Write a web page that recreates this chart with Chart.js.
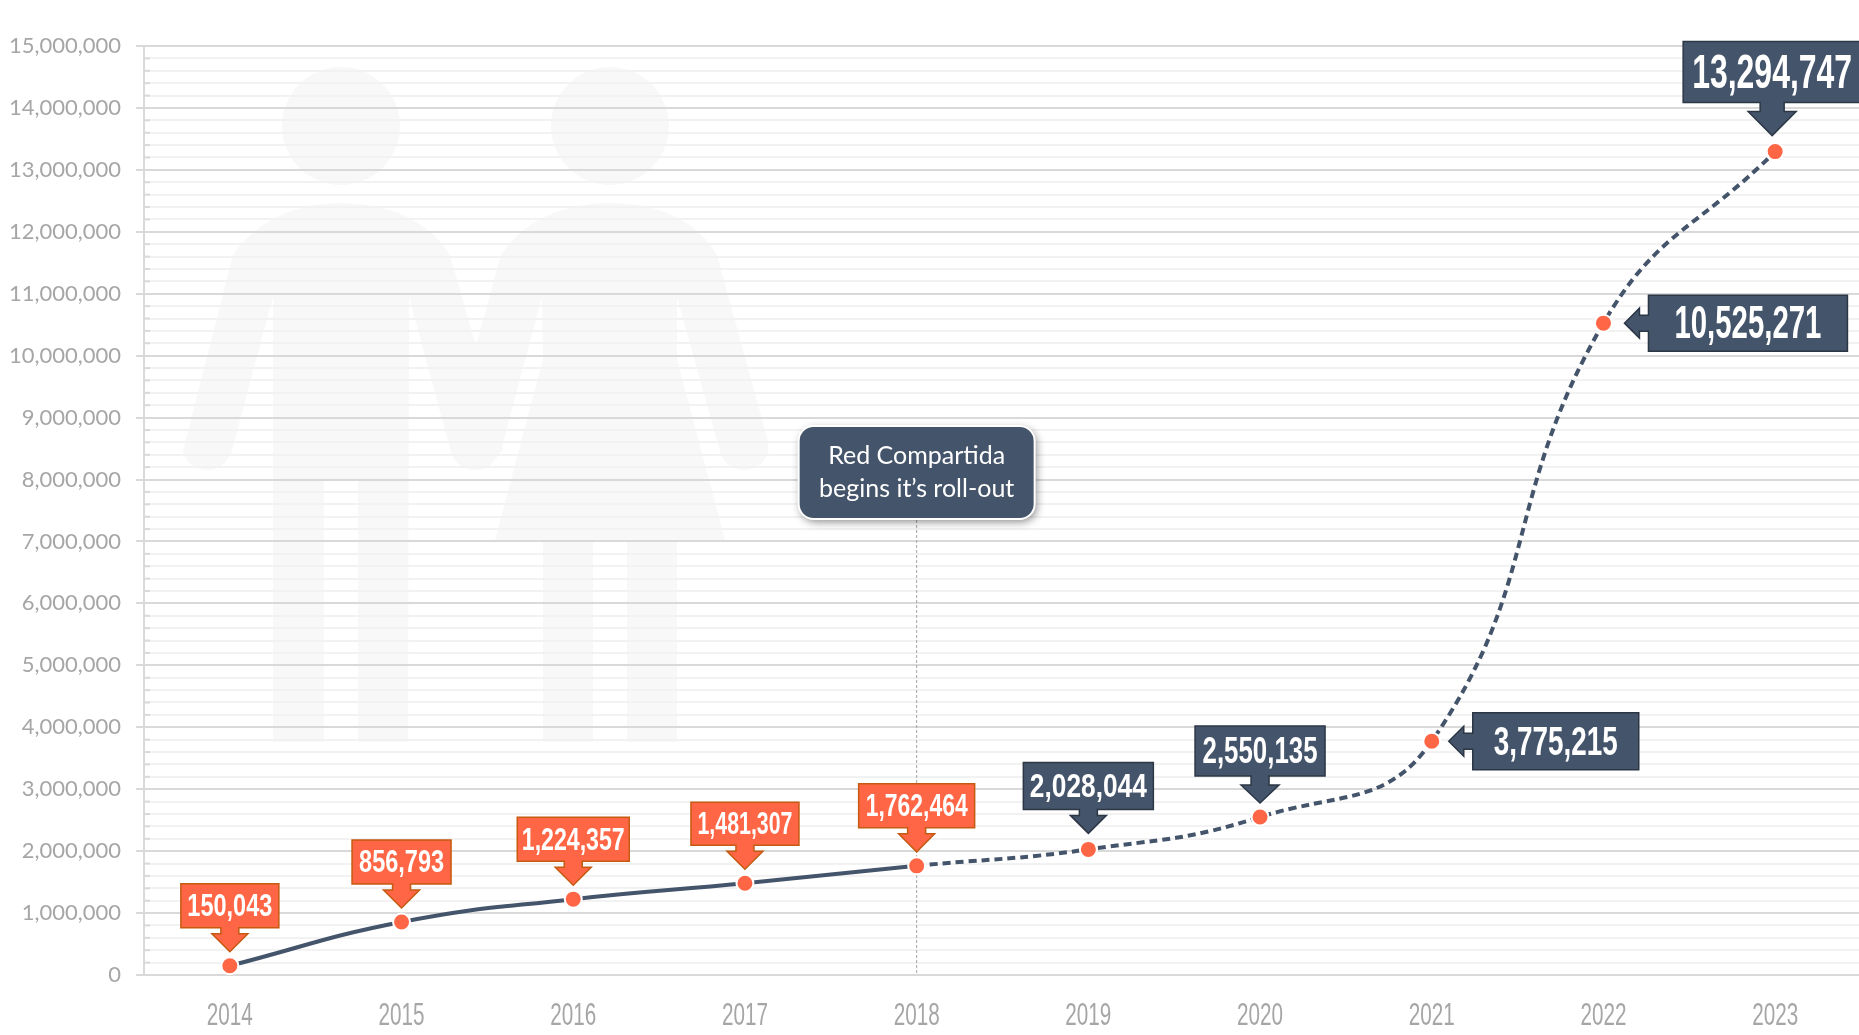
<!DOCTYPE html>
<html>
<head>
<meta charset="utf-8">
<style>
html, body { margin: 0; padding: 0; background: #fff; overflow: hidden; }
#wrap { width: 1859px; height: 1035px; position: relative; overflow: hidden; }
</style>
<script src="https://cdn.jsdelivr.net/npm/chart.js@4"></script>
</head>
<body>
<div id="wrap"><canvas id="canvas"></canvas></div>
<script>
var years = ['2014', '2015', '2016', '2017', '2018', '2019', '2020', '2021', '2022', '2023'];
var users = [150043, 856793, 1224357, 1481307, 1762464, 2028044, 2550135, 3775215, 10525271, 13294747];

var slate = '#44546A';
var orange = '#FF6645';

// last index of the solid part of the line
var lastSolid = 4;
var rolloutYear = '2018';

// callout shapes, one per point
var callouts = [
    { dir: 'down', w: 98, h: 44, size: 31, textW: 85, fill: orange, edge: '#C55A11' },
    { dir: 'down', w: 99, h: 44, size: 31, textW: 85, fill: orange, edge: '#C55A11' },
    { dir: 'down', w: 112, h: 44, size: 31, textW: 103, fill: orange, edge: '#C55A11' },
    { dir: 'down', w: 108, h: 43, size: 31, textW: 95, fill: orange, edge: '#C55A11' },
    { dir: 'down', w: 116, h: 44, size: 31, textW: 102, fill: orange, edge: '#C55A11' },
    { dir: 'down', w: 130, h: 47, size: 33, textW: 117, fill: slate, edge: '#2c3746', gap: 40, tipGap: 16 },
    { dir: 'down', w: 130, h: 50, size: 37, textW: 115, fill: slate, edge: '#2c3746', gap: 41, tipGap: 14, head: 19 },
    { dir: 'right', w: 166, h: 57, size: 41, textW: 124, fill: slate, edge: '#2c3746' },
    { dir: 'right', w: 199, h: 56, size: 46, textW: 147, fill: slate, edge: '#2c3746' },
    { dir: 'down', w: 178, h: 61, size: 49, textW: 160, fill: slate, edge: '#2c3746', shift: -3, gap: 49, tipGap: 16, head: 24, shaft: 12, neck: 24 }
];

function drawPeople(ctx) {
    ctx.save();
    ctx.fillStyle = '#f8f8f8';
    ctx.beginPath();
    ctx.arc(341, 126, 59, 0, Math.PI * 2);
    ctx.arc(610, 126, 59, 0, Math.PI * 2);
    ctx.fill();
    // man
    ctx.beginPath();
    ctx.moveTo(273, 742);
    ctx.lineTo(273, 297);
    ctx.lineTo(231, 454);
    ctx.arc(207, 445, 25, 0.35, 2.88);
    ctx.lineTo(233, 255);
    ctx.bezierCurveTo(255, 222, 295, 203, 340, 203);
    ctx.bezierCurveTo(390, 203, 430, 222, 450, 255);
    ctx.lineTo(476, 346);
    ctx.lineTo(501, 255);
    ctx.lineTo(503, 450);
    ctx.arc(475, 445, 25, 0.35, 2.88);
    ctx.lineTo(409, 297);
    ctx.lineTo(408, 742);
    ctx.lineTo(358, 742);
    ctx.lineTo(358, 480);
    ctx.lineTo(324, 480);
    ctx.lineTo(324, 742);
    ctx.closePath();
    ctx.fill();
    // woman
    ctx.beginPath();
    ctx.moveTo(543, 742);
    ctx.lineTo(543, 540);
    ctx.lineTo(495, 540);
    ctx.lineTo(543, 359);
    ctx.lineTo(542, 297);
    ctx.lineTo(500, 454);
    ctx.arc(475, 445, 25, 0.35, 2.88);
    ctx.lineTo(501, 255);
    ctx.bezierCurveTo(522, 222, 562, 203, 610, 203);
    ctx.bezierCurveTo(660, 203, 698, 222, 717, 255);
    ctx.lineTo(768, 441);
    ctx.arc(744, 445, 25, 0.2, 2.75);
    ctx.lineTo(677, 297);
    ctx.lineTo(677, 359);
    ctx.lineTo(725, 540);
    ctx.lineTo(677, 540);
    ctx.lineTo(677, 742);
    ctx.lineTo(627, 742);
    ctx.lineTo(627, 540);
    ctx.lineTo(593, 540);
    ctx.lineTo(593, 742);
    ctx.closePath();
    ctx.fill();
    ctx.restore();
}

function squeezedText(ctx, text, x, y, width) {
    var measured = ctx.measureText(text).width;
    ctx.save();
    ctx.translate(x, y);
    ctx.scale(width / measured, 1);
    ctx.fillText(text, 0, 0);
    ctx.restore();
}

function drawCallout(ctx, pt, c, text) {
    var left, top, cx, cy;
    ctx.save();
    ctx.fillStyle = c.fill;
    ctx.strokeStyle = c.edge;
    ctx.lineWidth = 1.5;
    ctx.beginPath();
    if (c.dir === 'down') {
        var bottom = pt.y - (c.gap || 38);
        cx = pt.x + (c.shift || 0);
        left = cx - c.w / 2;
        top = bottom - c.h;
        var shaft = c.shaft || 9, head = c.head || 18;
        var tip = pt.y - (c.tipGap || 14), neck = tip - (c.neck || 18);
        ctx.moveTo(left, top);
        ctx.lineTo(left + c.w, top);
        ctx.lineTo(left + c.w, bottom);
        ctx.lineTo(cx + shaft, bottom);
        ctx.lineTo(cx + shaft, neck);
        ctx.lineTo(cx + head, neck);
        ctx.lineTo(cx, tip);
        ctx.lineTo(cx - head, neck);
        ctx.lineTo(cx - shaft, neck);
        ctx.lineTo(cx - shaft, bottom);
        ctx.lineTo(left, bottom);
        cy = top + c.h / 2;
    } else {
        left = pt.x + (c.h > 56 ? 41 : 45);
        top = pt.y - c.h / 2;
        var tipX = left - 24, neckX = left - 9;
        ctx.moveTo(left, top);
        ctx.lineTo(left + c.w, top);
        ctx.lineTo(left + c.w, top + c.h);
        ctx.lineTo(left, top + c.h);
        ctx.lineTo(left, pt.y + 8);
        ctx.lineTo(neckX, pt.y + 8);
        ctx.lineTo(neckX, pt.y + 15);
        ctx.lineTo(tipX, pt.y);
        ctx.lineTo(neckX, pt.y - 15);
        ctx.lineTo(neckX, pt.y - 8);
        ctx.lineTo(left, pt.y - 8);
        cx = left + c.w / 2;
        cy = pt.y;
    }
    ctx.closePath();
    ctx.fill();
    ctx.stroke();

    ctx.font = 'bold ' + c.size + 'px "Liberation Sans"';
    ctx.fillStyle = '#fff';
    ctx.textAlign = 'center';
    ctx.textBaseline = 'middle';
    squeezedText(ctx, text, cx, cy + 2, c.textW);
    ctx.restore();
}

var peoplePlugin = {
    id: 'people',
    beforeDraw: function (chart) {
        drawPeople(chart.ctx);
    }
};

// small inner ticks on the y axis and the condensed year labels
var axisPlugin = {
    id: 'axisExtras',
    afterDraw: function (chart) {
        var ctx = chart.ctx;
        var yScale = chart.scales.y;
        var xScale = chart.scales.x;
        ctx.save();
        ctx.strokeStyle = '#d9d9d9';
        ctx.lineWidth = 2;
        yScale.ticks.forEach(function (t) {
            if (t.value % 1000000 !== 0) {
                var py = yScale.getPixelForValue(t.value);
                ctx.beginPath();
                ctx.moveTo(xScale.left, py);
                ctx.lineTo(xScale.left + 6, py);
                ctx.stroke();
            }
        });
        ctx.font = '32px "Liberation Sans"';
        ctx.fillStyle = '#a6a6a6';
        ctx.textAlign = 'center';
        ctx.textBaseline = 'middle';
        years.forEach(function (year, i) {
            squeezedText(ctx, year, xScale.getPixelForValue(i), 1016, 46);
        });
        ctx.restore();
    }
};

var rolloutPlugin = {
    id: 'rollout',
    beforeDatasetsDraw: function (chart) {
        var ctx = chart.ctx;
        var x = chart.scales.x.getPixelForValue(years.indexOf(rolloutYear));
        ctx.save();
        ctx.strokeStyle = '#a6a6a6';
        ctx.lineWidth = 1;
        ctx.setLineDash([3, 2]);
        ctx.beginPath();
        ctx.moveTo(x, 500);
        ctx.lineTo(x, chart.chartArea.bottom);
        ctx.stroke();
        ctx.restore();
    },
    afterDatasetsDraw: function (chart) {
        var ctx = chart.ctx;
        var x = chart.scales.x.getPixelForValue(years.indexOf(rolloutYear));
        ctx.save();
        ctx.shadowColor = 'rgba(0,0,0,0.45)';
        ctx.shadowBlur = 8;
        ctx.shadowOffsetX = 2;
        ctx.shadowOffsetY = 3;
        ctx.fillStyle = slate;
        ctx.beginPath();
        ctx.roundRect(x - 118, 426, 236, 93, 15);
        ctx.fill();
        ctx.shadowColor = 'transparent';
        ctx.strokeStyle = '#fff';
        ctx.lineWidth = 2;
        ctx.stroke();
        ctx.fillStyle = '#fff';
        ctx.font = '25px Lato';
        ctx.textAlign = 'center';
        ctx.textBaseline = 'middle';
        ctx.fillText('Red Compartida', x, 456);
        ctx.fillText('begins it\u2019s roll-out', x, 489);
        ctx.restore();
    }
};

var calloutPlugin = {
    id: 'callouts',
    afterDatasetsDraw: function (chart) {
        var points = chart.getDatasetMeta(0).data;
        for (var i = 0; i < points.length; i++) {
            drawCallout(chart.ctx, points[i], callouts[i], users[i].toLocaleString('en-US'));
        }
    }
};

var config = {
    type: 'line',
    data: {
        labels: years,
        datasets: [{
            label: 'Users',
            data: users,
            borderColor: slate,
            borderWidth: 4,
            tension: 0.45,
            fill: false,
            segment: {
                borderDash: function (c) {
                    return c.p0DataIndex >= lastSolid ? [8, 5] : undefined;
                }
            },
            pointRadius: 8.5,
            pointBackgroundColor: orange,
            pointBorderColor: '#fff',
            pointBorderWidth: 2
        }]
    },
    plugins: [peoplePlugin, rolloutPlugin, calloutPlugin, axisPlugin],
    options: {
        responsive: false,
        animation: false,
        layout: { autoPadding: false, padding: { top: 46, left: 0, right: 0, bottom: 0 } },
        plugins: {
            legend: { display: false },
            title: { display: false },
            tooltip: { enabled: false }
        },
        scales: {
            x: {
                offset: true,
                afterFit: function (scale) { scale.height = 60; },
                grid: { display: false, offset: true },
                border: { color: '#d9d9d9', width: 2 },
                ticks: { display: false }
            },
            y: {
                min: 0,
                max: 15000000,
                afterFit: function (scale) { scale.width = 144; },
                afterBuildTicks: function (scale) {
                    var t = [];
                    for (var v = 0; v <= 15000000; v += 200000) t.push({ value: v });
                    scale.ticks = t;
                },
                grid: {
                    color: function (c) {
                        return c.tick.value % 1000000 === 0 ? '#d9d9d9' : '#f2f2f2';
                    },
                    lineWidth: 2,
                    tickLength: 8,
                    tickColor: function (c) {
                        return c.tick.value % 1000000 === 0 ? '#d9d9d9' : 'rgba(0,0,0,0)';
                    }
                },
                border: { color: '#d9d9d9', width: 2 },
                ticks: {
                    autoSkip: false,
                    color: '#a6a6a6',
                    font: { family: 'Lato', size: 22 },
                    padding: 15,
                    callback: function (v) {
                        return v % 1000000 === 0 ? v.toLocaleString('en-US') : '';
                    }
                }
            }
        }
    }
};

var canvas = document.getElementById('canvas');
canvas.width = 1861;
canvas.height = 1035;
canvas.style.width = '1861px';
canvas.style.height = '1035px';
window.myLine = new Chart(canvas.getContext('2d'), config);
</script>
</body>
</html>
